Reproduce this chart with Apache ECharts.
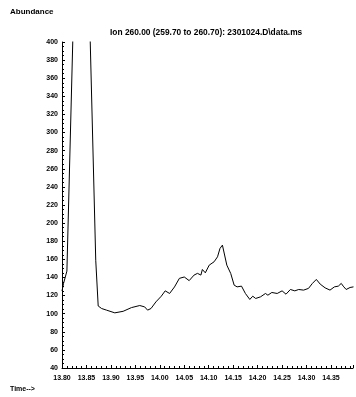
<!DOCTYPE html>
<html>
<head>
<meta charset="utf-8">
<script src="https://cdn.jsdelivr.net/npm/echarts@6/dist/echarts.min.js"></script>
<style>
html,body{margin:0;padding:0;background:#fff;}
#c{width:356px;height:397px;}
</style>
</head>
<body>
<div id="c"></div>
<script>
// Data
var times = [13.800, 13.803, 13.810, 13.840, 13.869, 13.874, 13.881, 13.891, 13.908, 13.925,
  13.942, 13.959, 13.969, 13.975, 13.982, 13.992, 14.003, 14.011, 14.020, 14.030,
  14.040, 14.050, 14.060, 14.070, 14.077, 14.084, 14.087, 14.093, 14.101, 14.111,
  14.118, 14.123, 14.128, 14.131, 14.137, 14.145, 14.152, 14.158, 14.167, 14.175,
  14.184, 14.190, 14.196, 14.206, 14.216, 14.221, 14.229, 14.240, 14.250, 14.258,
  14.267, 14.276, 14.284, 14.294, 14.304, 14.312, 14.320, 14.328, 14.338, 14.348,
  14.357, 14.365, 14.371, 14.375, 14.381, 14.389, 14.396];
var abundance = [125, 133, 147, 780, 159, 108.5, 105.7, 103.9, 100.9, 102.6,
  106.7, 109, 107.5, 103.9, 105.7, 113, 119.3, 125.2, 122.3, 129.5,
  139, 140.5, 136.5, 142.6, 144.5, 142.6, 148.8, 145.1, 153.6, 157.3,
  162.8, 172, 175.7, 173.8, 153.6, 144.4, 131.5, 129.6, 130.4, 122.3,
  115.7, 119.3, 116.8, 118.6, 122.3, 120.4, 123.4, 122.3, 125.2, 121.5,
  126.7, 125.2, 126.7, 126, 127.9, 133.4, 137.8, 132.6, 128.5, 126,
  129.6, 130.4, 133.4, 130.4, 126.7, 128.9, 129.6];
var yTicks = {min: 40, max: 400, step: 20};
var xTicks = {min: 13.80, max: 14.395, step: 0.05};
var titleText = 'Ion 260.00 (259.70 to 260.70): 2301024.D\\data.ms';
var yName = 'Abundance';
var xName = 'Time-->';

var pts = times.map(function (t, i) { return [t, abundance[i]]; });
var font = 'Liberation Sans, Arial, sans-serif';
var chart = echarts.init(document.getElementById('c'), null, {renderer: 'canvas'});
chart.setOption({
  animation: false,
  backgroundColor: '#fff',
  graphic: [
    {type: 'text', left: 10, top: 8, style: {text: yName, font: 'bold 8px ' + font, fill: '#000'}},
    {type: 'text', left: 10, top: 386, style: {text: xName, font: 'bold 7px ' + font, fill: '#000'}},
    {type: 'text', left: 110, top: 29, style: {text: titleText, font: 'bold 8.4px ' + font, fill: '#000'}}
  ],
  grid: {left: 62, right: 1, top: 42, bottom: 29, containLabel: false},
  xAxis: {
    type: 'value', min: xTicks.min, max: xTicks.max, interval: xTicks.step,
    axisLine: {show: true, onZero: false, lineStyle: {color: '#000', width: 1}},
    axisTick: {show: true, inside: true, length: 3, lineStyle: {color: '#000'}},
    minorTick: {show: true, splitNumber: 5, length: 2, lineStyle: {color: '#000'}},
    splitLine: {show: false},
    axisLabel: {
      color: '#000', fontSize: 7, fontWeight: 'bold', fontFamily: font, margin: 7,
      showMinLabel: true, showMaxLabel: true,
      formatter: function (v) {
        var r = v / xTicks.step;
        if (Math.abs(r - Math.round(r)) > 1e-6) return '';
        return v.toFixed(2);
      }
    }
  },
  yAxis: {
    type: 'value', min: yTicks.min, max: yTicks.max, interval: yTicks.step,
    axisLine: {show: true, onZero: false, lineStyle: {color: '#000', width: 1}},
    axisTick: {show: true, inside: true, length: 3, lineStyle: {color: '#000'}},
    minorTick: {show: true, splitNumber: 4, length: 2, lineStyle: {color: '#000'}},
    splitLine: {show: false},
    axisLabel: {color: '#000', fontSize: 7, fontWeight: 'bold', fontFamily: font, margin: 4}
  },
  series: [{
    type: 'line', data: pts, showSymbol: false, smooth: false, clip: true,
    lineStyle: {color: '#000', width: 1}
  }]
});
</script>
</body>
</html>
